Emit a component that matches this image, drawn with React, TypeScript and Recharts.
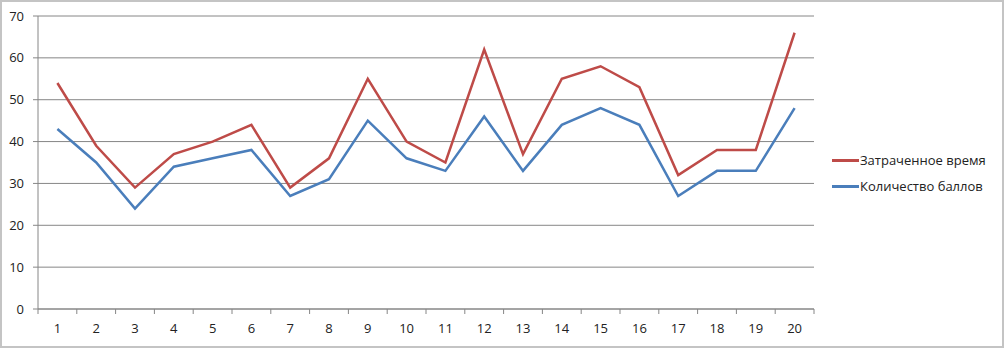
import { LineChart, Line, XAxis, YAxis, CartesianGrid } from 'recharts'

const categories = ['1', '2', '3', '4', '5', '6', '7', '8', '9', '10', '11', '12', '13', '14', '15', '16', '17', '18', '19', '20']
const timeSpent = [54, 39, 29, 37, 40, 44, 29, 36, 55, 40, 35, 62, 37, 55, 58, 53, 32, 38, 38, 66]
const scores = [43, 35, 24, 34, 36, 38, 27, 31, 45, 36, 33, 46, 33, 44, 48, 44, 27, 33, 33, 48]
const yTicks = [0, 10, 20, 30, 40, 50, 60, 70]

const RED = '#BE4B48'
const BLUE = '#4A7EBB'
const AXIS = '#868686'
const FONT = '"Open Sans", "Noto Sans", sans-serif'

const W = 1004
const H = 348
const PLOT_LEFT = 38
const PLOT_RIGHT = 814
const BAND = (PLOT_RIGHT - PLOT_LEFT) / categories.length

const data = categories.map((c, i) => ({ n: c, time: timeSpent[i], score: scores[i] }))

// category labels centred, tick marks between categories (like Excel)
function XTick(props: any) {
  const { x, y, payload, index } = props
  const left = x - BAND / 2
  const y0 = y - 8
  return (
    <g>
      <line x1={left} y1={y0} x2={left} y2={y0 + 5} stroke={AXIS} />
      {index === categories.length - 1 && (
        <line x1={x + BAND / 2} y1={y0} x2={x + BAND / 2} y2={y0 + 5} stroke={AXIS} />
      )}
      <text x={x} y={y + 16} textAnchor="middle" fontSize={13} fontFamily={FONT} fill="#222">
        {payload.value}
      </text>
    </g>
  )
}

const legendItems = [
  { label: 'Затраченное время', color: RED },
  { label: 'Количество баллов', color: BLUE },
]

export default function App() {
  return (
    <div
      style={{
        position: 'absolute',
        left: 0,
        top: 0,
        width: W,
        height: H,
        boxSizing: 'border-box',
        border: '2px solid #c4c4c4',
        background: '#fff',
      }}
    >
      <div style={{ position: 'absolute', left: -2, top: -2 }}>
        <LineChart width={W} height={H} data={data} margin={{ top: 16, right: W - PLOT_RIGHT, bottom: 0, left: 0 }}>
          <CartesianGrid vertical={false} stroke={AXIS} strokeWidth={1} />
          <XAxis
            dataKey="n"
            scale="band"
            height={39}
            tickLine={false}
            axisLine={{ stroke: AXIS }}
            tick={<XTick />}
            interval={0}
          />
          <YAxis
            width={PLOT_LEFT}
            domain={[0, 70]}
            ticks={yTicks}
            interval={0}
            tickSize={5}
            tickMargin={9}
            tickLine={{ stroke: AXIS }}
            axisLine={{ stroke: AXIS }}
            tick={{ fontSize: 13, fontFamily: FONT, fill: '#222' }}
          />
          <Line dataKey="time" name="Затраченное время" stroke={RED} strokeWidth={2.5} dot={false} isAnimationActive={false} />
          <Line dataKey="score" name="Количество баллов" stroke={BLUE} strokeWidth={2.5} dot={false} isAnimationActive={false} />
        </LineChart>
      </div>
      <div style={{ position: 'absolute', left: 830, top: 145, fontFamily: FONT, fontSize: 13, color: '#222' }}>
        {legendItems.map(it => (
          <div key={it.label} style={{ display: 'flex', alignItems: 'center', height: 26 }}>
            <span style={{ display: 'inline-block', width: 27, height: 3, background: it.color }} />
            <span style={{ marginLeft: 1 }}>{it.label}</span>
          </div>
        ))}
      </div>
    </div>
  )
}
